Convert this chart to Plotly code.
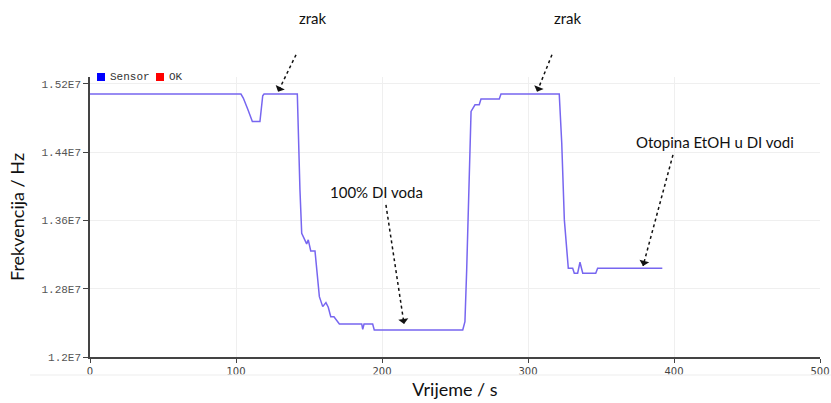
import plotly.graph_objects as go

# ---------------------------------------------------------------------------
# Data
# ---------------------------------------------------------------------------
time_s = [0, 103.4, 105.0, 106.6, 108.2, 111.2, 116.4, 118.3, 119.2, 142.0,
          142.8, 143.8, 145.0, 148.4, 149.5, 151.2, 154.1, 157.1, 159.4, 161.6,
          163.2, 164.9, 167.1, 170.8, 186.1, 186.8, 187.7, 193.6, 194.7, 255.3,
          256.8, 258.0, 261.0, 261.8, 263.7, 266.6, 267.8, 280.3, 281.5, 321.4,
          323.1, 324.9, 327.6, 330.6, 331.7, 334.0, 335.6, 337.5, 346.4, 347.7,
          392.0]
freq_hz = [1.508e7, 1.508e7, 1.5033e7, 1.4974e7, 1.4896e7, 1.4758e7, 1.4758e7, 1.506e7, 1.508e7, 1.508e7,
           1.4544e7, 1.3958e7, 1.345e7, 1.3325e7, 1.3372e7, 1.3243e7, 1.3243e7, 1.2707e7, 1.259e7, 1.2637e7,
           1.2583e7, 1.2472e7, 1.2472e7, 1.2387e7, 1.2387e7, 1.2325e7, 1.2387e7, 1.2387e7, 1.2317e7, 1.2317e7,
           1.2414e7, 1.302e7, 1.4876e7, 1.4896e7, 1.4954e7, 1.4954e7, 1.5021e7, 1.5021e7, 1.508e7, 1.508e7,
           1.4509e7, 1.3606e7, 1.304e7, 1.304e7, 1.2981e7, 1.2981e7, 1.311e7, 1.2981e7, 1.2981e7, 1.304e7,
           1.304e7]

y_tick_vals = [1.2e7, 1.28e7, 1.36e7, 1.44e7, 1.52e7]
y_tick_text = ["1.2E7", "1.28E7", "1.36E7", "1.44E7", "1.52E7"]
x_tick_vals = [0, 100, 200, 300, 400, 500]

legend_names = ["Sensor", "OK"]
legend_colors = ["#0000ff", "#ff0000"]

# label text, text position, arrow tail, arrow head (data coords)
labels = ["zrak", "zrak", "100% DI voda", "Otopina EtOH u DI vodi"]
label_pos = [(152.7, 1.597e7), (327.4, 1.597e7), (195.9, 1.3934e7), (428.1, 1.452e7)]
arrow_tail = [(141.1, 1.554e7), (316.4, 1.554e7), (202.7, 1.3782e7), (399.3, 1.4368e7)]
arrow_head = [(128.8, 1.5107e7), (306.2, 1.5107e7), (215.1, 1.2387e7), (378.8, 1.3067e7)]

# ---------------------------------------------------------------------------
# Style
# ---------------------------------------------------------------------------
COLOR_LINE = "#7766f0"
COLOR_GRID = "#efefef"
COLOR_AXIS = "#444444"
X_RANGE = [0, 500]
Y_RANGE = [1.2e7, 1.528e7]
M_L, M_R, M_T, M_B = 90, 11, 77, 46
W, H = 831, 403
PLOT_W, PLOT_H = W - M_L - M_R, H - M_T - M_B
MONO = "Liberation Mono, Courier New, monospace"
SANS = "Lato, Open Sans, sans-serif"


def to_paper(x, y):
    px = (x - X_RANGE[0]) / (X_RANGE[1] - X_RANGE[0])
    py = (y - Y_RANGE[0]) / (Y_RANGE[1] - Y_RANGE[0])
    return px, py


def px_to_paper(px, py):
    return (px - M_L) / PLOT_W, (H - M_B - py) / PLOT_H


fig = go.Figure()

fig.add_trace(
    go.Scatter(
        x=time_s, y=freq_hz,
        mode="lines", name="Sensor",
        line=dict(color=COLOR_LINE, width=1.5),
        showlegend=False,
    )
)

# --- compact legend drawn by hand (square swatch + mono label) ---
lx = 97
for name, color in zip(legend_names, legend_colors):
    x0, y0 = px_to_paper(lx, 81)
    x1, y1 = px_to_paper(lx + 8, 73)
    fig.add_shape(type="rect", xref="paper", yref="paper",
                  x0=x0, y0=y0, x1=x1, y1=y1,
                  fillcolor=color, line=dict(width=0))
    tx, ty = px_to_paper(lx + 11, 77)
    fig.add_annotation(x=tx, y=ty, xref="paper", yref="paper", text=name,
                       showarrow=False, xanchor="left", yanchor="middle",
                       font=dict(family=MONO, size=11, color="#333333"))
    lx += 11 + 7 * len(name) + 6

# --- dotted arrows + labels ---
for text, (tx, ty), (ax0, ay0), (hx, hy) in zip(labels, label_pos, arrow_tail, arrow_head):
    tpx, tpy = to_paper(tx, ty)
    apx, apy = to_paper(ax0, ay0)
    hpx, hpy = to_paper(hx, hy)
    fig.add_annotation(
        x=tpx, y=tpy, xref="paper", yref="paper", text=text, showarrow=False,
        xanchor="center", yanchor="middle",
        font=dict(family=SANS, size=15, color="#111111"),
    )
    fig.add_shape(
        type="line", xref="paper", yref="paper",
        x0=apx, y0=apy, x1=hpx, y1=hpy,
        line=dict(color="#111111", width=1.5, dash="dot"),
    )
    # arrow head only: tiny shaft pointing along the dotted line
    dx = (apx - hpx) * PLOT_W
    dy = -(apy - hpy) * PLOT_H
    norm = (dx ** 2 + dy ** 2) ** 0.5
    fig.add_annotation(
        x=hpx, y=hpy, xref="paper", yref="paper", text="",
        showarrow=True, arrowhead=1, arrowsize=1.3, arrowwidth=1.3,
        arrowcolor="#111111",
        ax=dx / norm * 3, ay=dy / norm * 3,
    )

# faint frame line under the x axis labels
fx0, fy = px_to_paper(30, 375)
fig.add_shape(type="line", xref="paper", yref="paper",
              x0=fx0, y0=fy, x1=1.02, y1=fy,
              line=dict(color="#f3f3f3", width=1.5))

fig.update_layout(
    width=W, height=H,
    paper_bgcolor="white",
    plot_bgcolor="white",
    margin=dict(l=M_L, r=M_R, t=M_T, b=M_B, autoexpand=False),
    showlegend=False,
)
fig.update_xaxes(
    range=X_RANGE, tickvals=x_tick_vals,
    showgrid=True, gridcolor=COLOR_GRID, zeroline=False,
    showline=True, linecolor=COLOR_AXIS, linewidth=1.5,
    ticks="outside", ticklen=4, tickcolor=COLOR_AXIS,
    tickfont=dict(family="DejaVu Sans, Verdana, sans-serif", size=10, color="#444444"),
    title=dict(text="Vrijeme / s", font=dict(family=SANS, size=18, color="#111111"), standoff=8),
)
fig.update_yaxes(
    range=Y_RANGE, tickvals=y_tick_vals, ticktext=y_tick_text,
    showgrid=True, gridcolor=COLOR_GRID, zeroline=False,
    showline=True, linecolor=COLOR_AXIS, linewidth=1.5,
    ticks="outside", ticklen=5, tickcolor=COLOR_AXIS,
    tickfont=dict(family=MONO, size=11, color="#555555"),
    title=dict(text="Frekvencija / Hz", font=dict(family=SANS, size=18, color="#111111"), standoff=12),
)

# the page body has a default margin; remove it so the figure fills the window
fig.write_html(
    "out.html",
    config=dict(displayModeBar=False),
    post_script="document.body.style.margin='0';document.body.style.overflow='hidden';",
)
